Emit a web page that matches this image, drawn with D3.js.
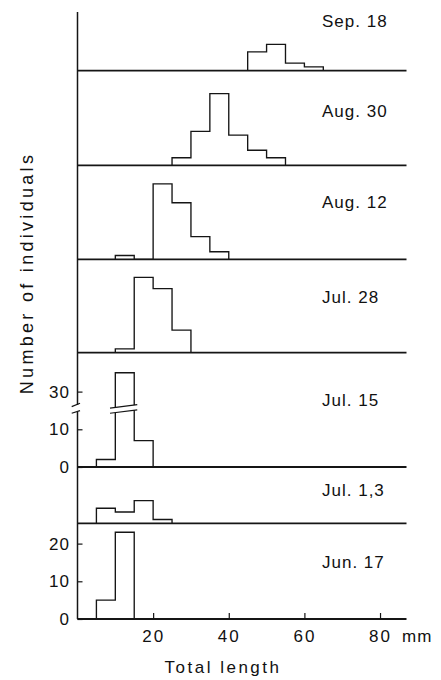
<!DOCTYPE html>
<html><head><meta charset="utf-8">
<script src="https://cdn.jsdelivr.net/npm/d3@7"></script>
<style>
html,body{margin:0;padding:0;background:#fff;}
svg{display:block;}
text{font-family:"Liberation Sans",Arial,sans-serif;fill:#111;}
</style></head><body>
<svg id="c" width="441" height="680"></svg>
<script>
// ---- data ----
const dates = ["Sep. 18","Aug. 30","Aug. 12","Jul. 28","Jul. 15","Jul. 1,3","Jun. 17"];
const binsSep18 = [45,50,55,60];        const countsSep18 = [5,7,2,1];
const binsAug30 = [25,30,35,40,45,50];  const countsAug30 = [2,9,19,8,4,2];
const binsAug12 = [10,15,20,25,30,35];  const countsAug12 = [1,0,20,15,6,2];
const binsJul28 = [10,15,20,25];        const countsJul28 = [1,20,17,6];
const binsJul15 = [5,10,15];            const countsJul15 = [2,35,7];
const binsJul13 = [5,10,15,20];         const countsJul13 = [4,3,6,1];
const binsJun17 = [5,10];               const countsJun17 = [5,23];
const binWidth = 5;
const xTicks = [20,40,60,80];
const xTickLabels = ["20","40","60","80"];
const xUnit = "mm";
const yTicksJul15 = [0,10,30];
const yTicksJun17 = [0,10,20];
const yBreakJul15 = [15,25];
const xLabel = "Total length";
const yLabel = "Number of individuals";

const binsList = [binsSep18,binsAug30,binsAug12,binsJul28,binsJul15,binsJul13,binsJun17];
const countsList = [countsSep18,countsAug30,countsAug12,countsJul28,countsJul15,countsJul13,countsJun17];
const ticksList = [null,null,null,null,yTicksJul15,null,yTicksJun17];

// ---- layout ----
const baseY = [70.7,165.3,259.3,352.7,467,523.3,619];
const axisTop = 12;
const labelDy = [-50,-54,-57,-56,-67,-33,-57];
const pxPerUnit = 3.77;
const ink = "#151515";

const svg = d3.select("#c");
const x = d3.scaleLinear().domain([0,87]).range([77.5,406.5]);

const line = d3.line().x(d=>x(d[0])).curve(d3.curveStepAfter);

let breakY = null;
dates.forEach((dt,i)=>{
  const base = baseY[i];
  const top = i===0 ? axisTop : baseY[i-1];
  const h = base - top;
  let y;
  if (i===4) {
    const [b0,b1] = yBreakJul15;
    const topVal = h/pxPerUnit + (b1-b0);
    y = d3.scaleLinear().domain([0,b0,b1,topVal])
          .range([base, base-b0*pxPerUnit, base-b0*pxPerUnit, top]);
    breakY = y(b0) - 1.5;
  } else {
    y = d3.scaleLinear().domain([0,h/pxPerUnit]).range([base, top]);
  }
  const g = svg.append("g");
  const bins = binsList[i], counts = countsList[i];
  const pts = [[bins[0],0]];
  bins.forEach((b,j)=>pts.push([b,counts[j]]));
  pts.push([bins[bins.length-1]+binWidth,0]);
  g.append("path").attr("d", line.y(d=>y(d[1]))(pts))
    .attr("fill","none").attr("stroke",ink).attr("stroke-width",1.35);

  // baseline
  g.append("line").attr("x1",x(0)).attr("x2",x(87)).attr("y1",base).attr("y2",base)
    .attr("stroke",ink).attr("stroke-width",1.8);

  // date label
  g.append("text").attr("x",322).attr("y",base+labelDy[i]).attr("dy","0.35em")
    .attr("font-size",17).attr("letter-spacing","1px").text(dt);

  // y ticks
  if (ticksList[i]) {
    const ax = d3.axisLeft(y).tickValues(ticksList[i]).tickFormat(d3.format("d"))
      .tickSize(-5).tickPadding(7.5);
    const ag = g.append("g").attr("transform",`translate(${x(0)},0)`).call(ax);
    ag.select(".domain").remove();
    ag.selectAll("line").attr("stroke",ink).attr("stroke-width",1.2);
    ag.selectAll("text").attr("font-size",17).attr("letter-spacing","1px")
      .attr("font-family",'"Liberation Sans",Arial,sans-serif').attr("fill",ink);
  }

  // break on the tall bar of Jul. 15
  if (i===4) {
    const xa = x(8.6), xb = x(15.8), s = 1.7, gap = 2.6;
    g.append("polygon")
      .attr("points",[[xa,breakY-gap+s],[xb,breakY-gap-s],[xb,breakY+gap-s],[xa,breakY+gap+s]].map(p=>p.join(",")).join(" "))
      .attr("fill","#fff");
    [-gap,gap].forEach(o=>{
      g.append("line").attr("x1",xa).attr("y1",breakY+o+s).attr("x2",xb).attr("y2",breakY+o-s)
        .attr("stroke",ink).attr("stroke-width",1.2);
    });
  }
});

// left axis line with break
const ax0 = x(0);
svg.append("line").attr("x1",ax0).attr("x2",ax0).attr("y1",axisTop).attr("y2",breakY-4)
  .attr("stroke",ink).attr("stroke-width",1.5);
svg.append("line").attr("x1",ax0).attr("x2",ax0).attr("y1",breakY+3).attr("y2",baseY[6])
  .attr("stroke",ink).attr("stroke-width",1.5);
[[-2.3,-5.7],[4.3,1.7]].forEach(([a,b])=>{
  svg.append("line").attr("x1",ax0-5.8).attr("y1",breakY+a).attr("x2",ax0+2.5).attr("y2",breakY+b)
    .attr("stroke",ink).attr("stroke-width",1.2);
});

// x axis
const xa = d3.axisBottom(x).tickValues(xTicks).tickFormat((d,i)=>xTickLabels[i])
  .tickSize(-6).tickPadding(11);
const xg = svg.append("g").attr("transform",`translate(0,${baseY[6]})`).call(xa);
xg.select(".domain").remove();
xg.selectAll("line").attr("stroke",ink).attr("stroke-width",1.2);
xg.selectAll("text").attr("font-size",17).attr("letter-spacing","2px")
  .attr("font-family",'"Liberation Sans",Arial,sans-serif').attr("fill",ink);
svg.append("text").attr("x",x(80)+22).attr("y",baseY[6]+11).attr("dy","0.71em")
  .attr("font-size",17).attr("letter-spacing","1px").text(xUnit);

// axis titles
svg.append("text").attr("x",223).attr("y",673).attr("text-anchor","middle")
  .attr("font-size",17).attr("letter-spacing","2.5px").text(xLabel);
svg.append("text").attr("transform","translate(33,273) rotate(-90)").attr("text-anchor","middle")
  .attr("font-size",18).attr("letter-spacing","3.3px").text(yLabel);
</script>
</body></html>
